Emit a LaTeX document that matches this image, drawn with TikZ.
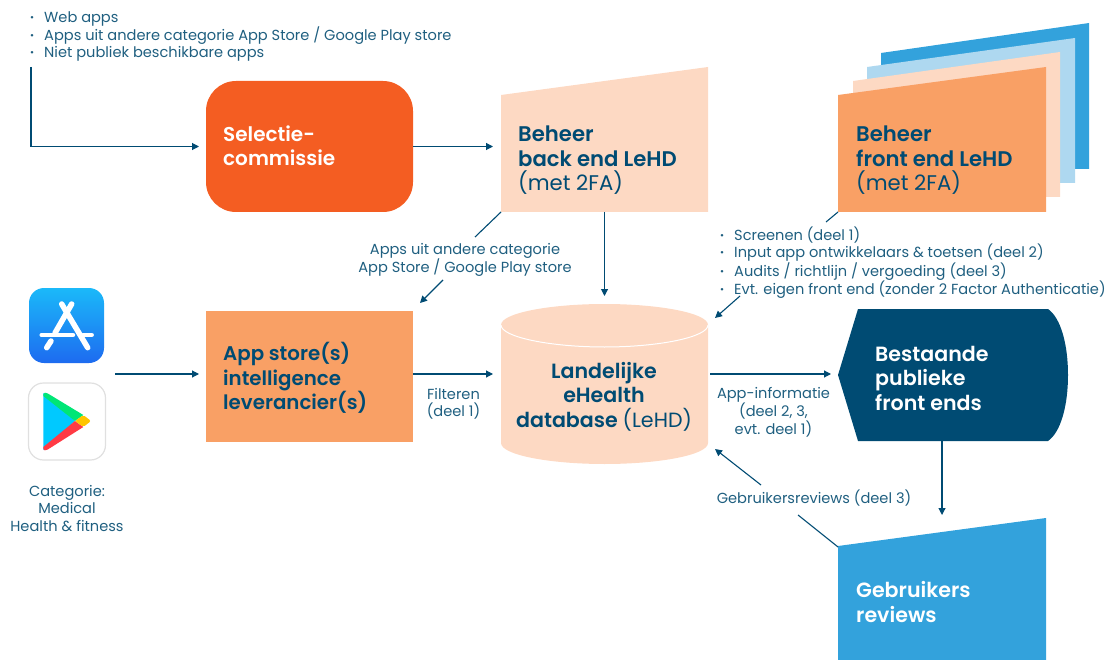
\documentclass[tikz,border=0pt]{standalone}
\usepackage{fontspec}
\setmainfont{Poppins}
\newfontfamily\headfont{Poppins SemiBold}
\usetikzlibrary{arrows.meta}
\definecolor{navy}{HTML}{004B73}
\definecolor{bodyc}{HTML}{1F5F80}
\definecolor{redor}{HTML}{F45D22}
\definecolor{orange2}{HTML}{F9A065}
\definecolor{peach}{HTML}{FDD9C3}
\definecolor{blue1}{HTML}{33A2DC}
\definecolor{blue2}{HTML}{AED8F0}
\definecolor{appt}{HTML}{1BB9F9}
\definecolor{appb}{HTML}{1D6BF0}
\definecolor{pcyan}{HTML}{00C9FF}
\definecolor{pgreen}{HTML}{00E676}
\definecolor{pred}{HTML}{FF3A44}
\definecolor{pyellow}{HTML}{FFC400}
\tikzset{
  zone/.style={minimum width=#1,inner sep=0pt,outer sep=0pt},
  conn/.style={draw=navy,line width=1.1pt},
  arr/.style={conn,-{Triangle[length=7pt,width=7pt]}},
  head/.style={anchor=west,align=left,inner sep=0pt,text=navy,font=\headfont\fontsize{#1}{24.5}\selectfont},
  head/.default=20.6,
  headw/.style={head=#1,text=white},
  headw/.default=20.6,
  small/.style={align=center,inner sep=0pt,text=bodyc,font=\fontsize{14.6}{17.4}\selectfont},
  list/.style={anchor=north west,align=left,inner sep=0pt,text=bodyc,font=\fontsize{14.6}{17.4}\selectfont},
  astroke/.style={draw=white,line width=5.5pt,line cap=round},
}
\newcommand{\itm}{\makebox[14pt][l]{{\headfont ·}}}
\newcommand{\lite}[1]{{\fontspec{Poppins}#1}}
\begin{document}
\begin{tikzpicture}[x=1pt,y=-1pt]
\useasboundingbox (0,0) rectangle (1115,660);
% stacked sheets
\fill[blue1] (881,53) -- (1089,23) -- (1089,169) -- (881,169) -- cycle;
\fill[blue2] (867,67) -- (1075,38) -- (1075,183) -- (867,183) -- cycle;
\fill[peach] (853,81) -- (1060,52) -- (1060,197) -- (853,197) -- cycle;
\fill[orange2] (838,95) -- (1046,67) -- (1046,212) -- (838,212) -- cycle;
\fill[peach] (501,95) -- (708,67) -- (708,212) -- (501,212) -- cycle;
\fill[blue1] (838,546) -- (1046,518) -- (1046,660) -- (838,660) -- cycle;
% existing front ends
\fill[navy] (838,375) -- (858,309) -- (1048,309) .. controls (1061,318) and (1068,345) .. (1068,375) .. controls (1068,405) and (1061,432) .. (1048,441) -- (858,441) -- cycle;
% cylinder
\fill[peach] (501,325) -- (501,443) .. controls (501,455) and (550,464) .. (604.5,464) .. controls (659,464) and (708,455) .. (708,443) -- (708,325) .. controls (708,313) and (659,304) .. (604.5,304) .. controls (550,304) and (501,313) .. (501,325) -- cycle;
\draw[white,line width=1pt] (501,325) .. controls (501,337) and (550,347) .. (604.5,347) .. controls (659,347) and (708,337) .. (708,325);
% boxes and anchoring zones
\node[zone=207pt,minimum height=131pt,fill=redor,rounded corners=30pt] (sel) at (309.5,146.5) {};
\node[zone=207pt,minimum height=131pt] (back) at (604.5,146.5) {};
\node[zone=208pt,minimum height=145pt] (front) at (942,139.5) {};
\node[zone=207pt,minimum height=131pt,fill=orange2] (store) at (309.5,376.5) {};
\node[zone=207pt,minimum height=160pt] (db) at (604.5,384) {};
\node[zone=230pt,minimum height=132pt] (pub) at (953,375) {};
\node[zone=208pt,minimum height=142pt] (rev) at (942,589) {};
% app store icon
\node[zone=75pt,minimum height=75pt,rounded corners=15pt,top color=appt,bottom color=appb] (appicon) at (66.5,325.5) {};
\draw[astroke] (71.7,304) -- (55,333);
\draw[astroke] (46.7,347.7) -- (51,341);
\draw[astroke] (61.7,304) -- (87.7,347.7);
\draw[astroke,line width=4.5pt] (41.7,335) -- (73,335);
\draw[astroke,line width=4.5pt] (83,335) -- (91.7,335);
% play icon
\node[zone=77pt,minimum height=77pt,rounded corners=15pt,draw=black!12!white,line width=1.2pt,fill=white] (playicon) at (67,421.5) {};
\fill[pcyan] (43.3,393) -- (75,421) -- (43.3,450) -- cycle;
\fill[pgreen] (43.3,396) [rounded corners=1.5pt] -- (43.3,392.7) -- (46.5,392.7) [sharp corners] -- (83.3,415) -- (75,421) -- cycle;
\fill[pred] (43.3,447) [rounded corners=1.5pt] -- (43.3,450.3) -- (46.5,450.3) [sharp corners] -- (83.3,427) -- (75,421) -- cycle;
\fill[pyellow,rounded corners=2pt] (83.3,415) -- (91,421) -- (83.3,427) -- (75,421) -- cycle;
% texts
\node[list] (toplist) at (30,11) {\itm Web apps\\\itm Apps uit andere categorie App Store / Google Play store\\\itm Niet publiek beschikbare apps};
\node[headw=20] (seltxt) at (223,146) {Selectie-\\commissie};
\node[head=21.2] (backtxt) at (518,160.5) {Beheer\\back end LeHD\\\lite{(met 2FA)}};
\node[head=21.2] (fronttxt) at (856,160.5) {Beheer\\front end LeHD\\\lite{(met 2FA)}};
\node[list] (frontlist) at (720,226.5) {\itm Screenen (deel 1)\\\itm Input app ontwikkelaars \& toetsen (deel 2)\\\itm Audits / richtlijn / vergoeding (deel 3)\\\itm Evt. eigen front end (zonder 2 Factor Authenticatie)};
\node[small] (catlabel) at (465,260) {Apps uit andere categorie\\App Store / Google Play store};
\node[head=19.8] (storetxt) at (223,378) {App store(s)\\intelligence\\leverancier(s)};
\node[small] (filter) at (453.5,403.5) {Filteren\\(deel 1)};
\node[head,anchor=center,align=center] (dbtxt) at (604,396.5) {Landelijke\\eHealth\\database \lite{(LeHD)}};
\node[small] (info) at (773.5,412) {App-informatie\\(deel 2, 3,\\evt. deel 1)};
\node[headw] (pubtxt) at (875,378) {Bestaande\\publieke\\front ends};
\node[small] (revlabel) at (814,498) {Gebruikersreviews (deel 3)};
\node[headw] (revtxt) at (856,602) {Gebruikers\\reviews};
\node[small] (cat) at (67,508.5) {Categorie:\\Medical\\Health \& fitness};
% free connector ends
\coordinate (liststart) at (31,67);
\coordinate (iconout) at (115,374);
\coordinate (sheetcorner) at (838,212);
\coordinate (backcorner) at (501,212);
\coordinate (revcorner) at (838,547);
\coordinate (b1) at (475,237);
\coordinate (b2) at (443,280);
\coordinate (b3) at (420,303);
\coordinate (f1) at (826,222);
\coordinate (f2) at (740,296);
\coordinate (f3) at (715,318);
\coordinate (r1) at (798,515);
\coordinate (r2) at (761,485);
\coordinate (r3) at (715,449);
% connectors
\draw[arr,shorten >=7pt] (liststart) |- (sel.west);
\draw[arr,shorten >=8pt] (sel.east) -- (back.west);
\draw[arr,shorten >=8pt] (back.south) -- (db.north);
\draw[conn] (backcorner) -- (b1);
\draw[arr] (b2) -- (b3);
\draw[conn] (sheetcorner) -- (f1);
\draw[arr] (f2) -- (f3);
\draw[arr,shorten >=7pt] (iconout) -- (store.west |- iconout);
\draw[arr,shorten >=8pt] (store.east |- iconout) -- (db.west |- iconout);
\draw[arr,shorten <=2pt,shorten >=7pt] (db.east |- iconout) -- (pub.west |- iconout);
\draw[arr,shorten >=3pt] (pub.south -| rev.north) -- (rev.north);
\draw[conn] (revcorner) -- (r1);
\draw[arr] (r2) -- (r3);
\end{tikzpicture}
\end{document}
